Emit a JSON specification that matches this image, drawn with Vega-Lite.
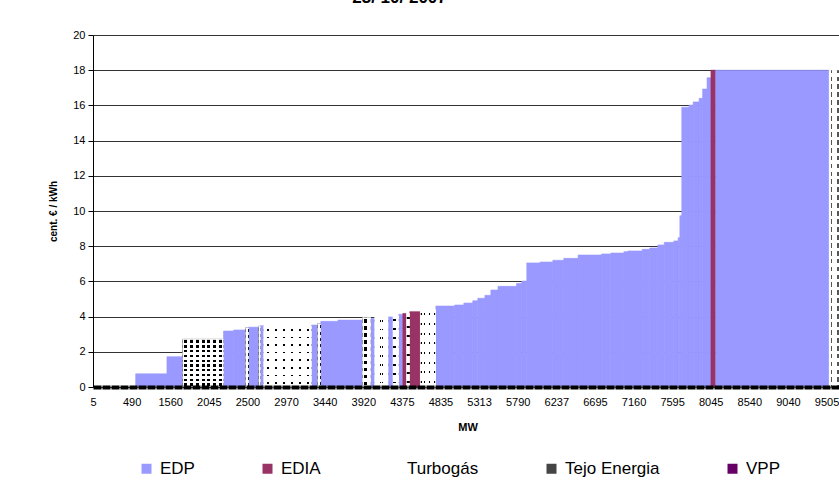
{
  "$schema": "https://vega.github.io/schema/vega-lite/v6.json",
  "width": 749,
  "height": 352,
  "autosize": "none",
  "padding": {"left": 93, "top": 35, "right": 0, "bottom": 110},
  "background": "white",
  "title": {"text": "23/ 10/ 2007", "fontSize": 17, "fontWeight": "bold", "font": "Liberation Sans", "color": "black", "anchor": "middle", "frame": "group", "dx": -68, "offset": 9, "baseline": "alphabetic"},
  "config": {
    "view": {"stroke": null},
    "font": "Liberation Sans",
    "axis": {"labelFont": "Liberation Sans", "titleFont": "Liberation Sans", "labelColor": "black", "titleColor": "black"}
  },
  "data": {"values": [
    {"series": "EDP", "start": 22.1, "end": 38.3, "price": 0.75},
    {"series": "EDP", "start": 38.3, "end": 46.5, "price": 1.72},
    {"series": "Tejo Energia", "start": 46.5, "end": 67.6, "price": 2.71},
    {"series": "EDP", "start": 67.6, "end": 72.9, "price": 3.18},
    {"series": "EDP", "start": 72.9, "end": 79.1, "price": 3.24},
    {"series": "Tejo Energia", "start": 79.1, "end": 80.7, "price": 3.37},
    {"series": "EDP", "start": 80.7, "end": 85.9, "price": 3.40},
    {"series": "Tejo Energia", "start": 85.9, "end": 86.7, "price": 3.45},
    {"series": "EDP", "start": 86.7, "end": 88.5, "price": 3.48},
    {"series": "Turbogás", "start": 88.5, "end": 113.2, "price": 3.47},
    {"series": "EDP", "start": 113.2, "end": 116.4, "price": 3.52},
    {"series": "Tejo Energia", "start": 116.4, "end": 118.0, "price": 3.60},
    {"series": "EDP", "start": 118.0, "end": 126.9, "price": 3.73},
    {"series": "EDP", "start": 126.9, "end": 139.6, "price": 3.80},
    {"series": "Tejo Energia", "start": 139.6, "end": 143.9, "price": 3.95},
    {"series": "EDP", "start": 143.9, "end": 146.0, "price": 3.90},
    {"series": "Turbogás", "start": 146.0, "end": 152.9, "price": 4.02},
    {"series": "EDP", "start": 152.9, "end": 155.4, "price": 3.98},
    {"series": "Turbogás", "start": 155.4, "end": 158.4, "price": 4.05},
    {"series": "EDP", "start": 158.4, "end": 160.5, "price": 4.13},
    {"series": "EDIA", "start": 160.5, "end": 162.5, "price": 4.18},
    {"series": "Turbogás", "start": 162.5, "end": 164.1, "price": 4.20},
    {"series": "EDIA", "start": 164.1, "end": 169.6, "price": 4.28},
    {"series": "Turbogás", "start": 169.6, "end": 177.6, "price": 4.41},
    {"series": "EDP", "start": 177.6, "end": 187.4, "price": 4.60},
    {"series": "EDP", "start": 187.4, "end": 192.1, "price": 4.66},
    {"series": "EDP", "start": 192.1, "end": 196.7, "price": 4.77},
    {"series": "EDP", "start": 196.7, "end": 199.3, "price": 4.90},
    {"series": "EDP", "start": 199.3, "end": 203.0, "price": 5.04},
    {"series": "EDP", "start": 203.0, "end": 206.1, "price": 5.21},
    {"series": "EDP", "start": 206.1, "end": 209.8, "price": 5.51},
    {"series": "EDP", "start": 209.8, "end": 219.4, "price": 5.72},
    {"series": "EDP", "start": 219.4, "end": 222.1, "price": 5.89},
    {"series": "EDP", "start": 222.1, "end": 224.7, "price": 6.02},
    {"series": "EDP", "start": 224.7, "end": 231.6, "price": 7.05},
    {"series": "EDP", "start": 231.6, "end": 238.2, "price": 7.10},
    {"series": "EDP", "start": 238.2, "end": 243.9, "price": 7.20},
    {"series": "EDP", "start": 243.9, "end": 251.3, "price": 7.31},
    {"series": "EDP", "start": 251.3, "end": 263.4, "price": 7.50},
    {"series": "EDP", "start": 263.4, "end": 268.2, "price": 7.56},
    {"series": "EDP", "start": 268.2, "end": 275.0, "price": 7.61},
    {"series": "EDP", "start": 275.0, "end": 277.1, "price": 7.69},
    {"series": "EDP", "start": 277.1, "end": 284.5, "price": 7.73},
    {"series": "EDP", "start": 284.5, "end": 288.4, "price": 7.82},
    {"series": "EDP", "start": 288.4, "end": 292.6, "price": 7.90},
    {"series": "EDP", "start": 292.6, "end": 295.9, "price": 8.07},
    {"series": "EDP", "start": 295.9, "end": 300.9, "price": 8.22},
    {"series": "EDP", "start": 300.9, "end": 303.1, "price": 8.30},
    {"series": "EDP", "start": 303.1, "end": 304.0, "price": 8.48},
    {"series": "EDP", "start": 304.0, "end": 305.0, "price": 9.73},
    {"series": "EDP", "start": 305.0, "end": 308.8, "price": 15.90},
    {"series": "EDP", "start": 308.8, "end": 310.9, "price": 16.02},
    {"series": "EDP", "start": 310.9, "end": 314.0, "price": 16.20},
    {"series": "EDP", "start": 314.0, "end": 315.8, "price": 16.40},
    {"series": "EDP", "start": 315.8, "end": 318.1, "price": 16.93},
    {"series": "EDP", "start": 318.1, "end": 320.1, "price": 17.57},
    {"series": "EDIA", "start": 320.1, "end": 322.6, "price": 18.0},
    {"series": "EDP", "start": 322.6, "end": 381.4, "price": 18.0},
    {"series": "Turbogás", "start": 381.4, "end": 388.0, "price": 18.0}
  ]},
  "encoding": {
    "x": {"field": "start", "type": "quantitative", "scale": {"domain": [0, 388], "nice": false, "zero": false},
      "axis": {"title": "MW", "values": [0, 20, 40, 60, 80, 100, 120, 140, 160, 180, 200, 220, 240, 260, 280, 300, 320, 340, 360, 380],
        "labelExpr": "['5','490','1560','2045','2500','2970','3440','3920','4375','4835','5313','5790','6237','6695','7160','7595','8045','8540','9040','9505'][round(datum.value/20)]",
        "grid": false, "ticks": false, "domainColor": "black", "domainWidth": 4, "domainDash": [8, 1], "zindex": 1,
        "labelFontSize": 11, "labelPadding": 9, "labelFlush": false, "labelOverlap": false,
        "titleFontSize": 11, "titleFontWeight": "bold", "titlePadding": 14}},
    "x2": {"field": "end"},
    "y": {"field": "price", "type": "quantitative", "scale": {"domain": [0, 20], "nice": false},
      "axis": {"title": "cent. € / kWh", "values": [0, 2, 4, 6, 8, 10, 12, 14, 16, 18, 20], "tickCount": 11, "labelOverlap": false, "grid": true, "gridColor": "#333333", "gridWidth": 1.2,
        "tickColor": "black", "tickSize": 5, "domainColor": "black", "labelFontSize": 11, "labelPadding": 3,
        "titleFontSize": 10, "titleFontWeight": "bold", "titlePadding": 14}},
    "y2": {"datum": 0}
  },
  "layer": [
    {
      "mark": {"type": "rect", "strokeWidth": 0.6},
      "encoding": {
        "color": {"field": "series", "type": "nominal",
          "scale": {"domain": ["EDP", "EDIA", "Turbogás", "Tejo Energia", "VPP"], "range": ["#9999ff", "#993366", "#ffffff", "#444444", "#660066"]},
          "legend": {"orient": "none", "legendX": 45, "legendY": 425, "direction": "horizontal", "columns": 5, "title": null,
            "symbolType": "square", "symbolSize": 100, "symbolStrokeWidth": 0, "labelFontSize": 17, "labelFont": "Liberation Sans", "labelColor": "black",
            "columnPadding": 64, "labelOffset": 5}},
        "stroke": {"field": "series", "type": "nominal", "legend": null,
          "scale": {"domain": ["EDP", "EDIA", "Turbogás", "Tejo Energia", "VPP"], "range": ["#9999ff", "#993366", "#ffffff", "#444444", "#660066"]}}
      }
    },
    {
      "transform": [{"filter": "datum.series === 'Tejo Energia'"}],
      "mark": {"type": "rect", "fill": {"gradient": "linear", "x1": 0, "y1": 0, "x2": 0, "y2": 1, "stops": [
        {"offset": 0, "color": "white"},
        {"offset": 0.025, "color": "white"}, {"offset": 0.025, "color": "black"}, {"offset": 0.075, "color": "black"}, {"offset": 0.075, "color": "white"},
        {"offset": 0.125, "color": "white"}, {"offset": 0.125, "color": "black"}, {"offset": 0.175, "color": "black"}, {"offset": 0.175, "color": "white"},
        {"offset": 0.225, "color": "white"}, {"offset": 0.225, "color": "black"}, {"offset": 0.275, "color": "black"}, {"offset": 0.275, "color": "white"},
        {"offset": 0.325, "color": "white"}, {"offset": 0.325, "color": "black"}, {"offset": 0.375, "color": "black"}, {"offset": 0.375, "color": "white"},
        {"offset": 0.425, "color": "white"}, {"offset": 0.425, "color": "black"}, {"offset": 0.475, "color": "black"}, {"offset": 0.475, "color": "white"},
        {"offset": 0.525, "color": "white"}, {"offset": 0.525, "color": "black"}, {"offset": 0.575, "color": "black"}, {"offset": 0.575, "color": "white"},
        {"offset": 0.625, "color": "white"}, {"offset": 0.625, "color": "black"}, {"offset": 0.675, "color": "black"}, {"offset": 0.675, "color": "white"},
        {"offset": 0.725, "color": "white"}, {"offset": 0.725, "color": "black"}, {"offset": 0.775, "color": "black"}, {"offset": 0.775, "color": "white"},
        {"offset": 0.825, "color": "white"}, {"offset": 0.825, "color": "black"}, {"offset": 0.875, "color": "black"}, {"offset": 0.875, "color": "white"},
        {"offset": 0.925, "color": "white"}, {"offset": 0.925, "color": "black"}, {"offset": 0.975, "color": "black"}, {"offset": 0.975, "color": "white"},
        {"offset": 1, "color": "white"}]}}
    },
    {
      "transform": [{"filter": "datum.series === 'Tejo Energia'"}],
      "mark": {"type": "rect", "fill": {"gradient": "linear", "x1": 0, "y1": 0, "x2": 1, "y2": 0, "stops": [
        {"offset": 0, "color": "white"},
        {"offset": 0.0357, "color": "white"}, {"offset": 0.0357, "color": "rgba(255,255,255,0)"}, {"offset": 0.1071, "color": "rgba(255,255,255,0)"}, {"offset": 0.1071, "color": "white"},
        {"offset": 0.1786, "color": "white"}, {"offset": 0.1786, "color": "rgba(255,255,255,0)"}, {"offset": 0.25, "color": "rgba(255,255,255,0)"}, {"offset": 0.25, "color": "white"},
        {"offset": 0.3214, "color": "white"}, {"offset": 0.3214, "color": "rgba(255,255,255,0)"}, {"offset": 0.3929, "color": "rgba(255,255,255,0)"}, {"offset": 0.3929, "color": "white"},
        {"offset": 0.4643, "color": "white"}, {"offset": 0.4643, "color": "rgba(255,255,255,0)"}, {"offset": 0.5357, "color": "rgba(255,255,255,0)"}, {"offset": 0.5357, "color": "white"},
        {"offset": 0.6071, "color": "white"}, {"offset": 0.6071, "color": "rgba(255,255,255,0)"}, {"offset": 0.6786, "color": "rgba(255,255,255,0)"}, {"offset": 0.6786, "color": "white"},
        {"offset": 0.75, "color": "white"}, {"offset": 0.75, "color": "rgba(255,255,255,0)"}, {"offset": 0.8214, "color": "rgba(255,255,255,0)"}, {"offset": 0.8214, "color": "white"},
        {"offset": 0.8929, "color": "white"}, {"offset": 0.8929, "color": "rgba(255,255,255,0)"}, {"offset": 0.9643, "color": "rgba(255,255,255,0)"}, {"offset": 0.9643, "color": "white"},
        {"offset": 1, "color": "white"}]}}
    },
    {
      "transform": [{"filter": "datum.series === 'Turbogás' && datum.price < 10"}],
      "mark": {"type": "rect", "fill": {"gradient": "linear", "x1": 0, "y1": 0, "x2": 0, "y2": 1, "stops": [
        {"offset": 0, "color": "white"},
        {"offset": 0.0495, "color": "white"}, {"offset": 0.0495, "color": "black"}, {"offset": 0.0755, "color": "black"}, {"offset": 0.0755, "color": "white"},
        {"offset": 0.1745, "color": "white"}, {"offset": 0.1745, "color": "black"}, {"offset": 0.2005, "color": "black"}, {"offset": 0.2005, "color": "white"},
        {"offset": 0.2995, "color": "white"}, {"offset": 0.2995, "color": "black"}, {"offset": 0.3255, "color": "black"}, {"offset": 0.3255, "color": "white"},
        {"offset": 0.4245, "color": "white"}, {"offset": 0.4245, "color": "black"}, {"offset": 0.4505, "color": "black"}, {"offset": 0.4505, "color": "white"},
        {"offset": 0.5495, "color": "white"}, {"offset": 0.5495, "color": "black"}, {"offset": 0.5755, "color": "black"}, {"offset": 0.5755, "color": "white"},
        {"offset": 0.6745, "color": "white"}, {"offset": 0.6745, "color": "black"}, {"offset": 0.7005, "color": "black"}, {"offset": 0.7005, "color": "white"},
        {"offset": 0.7995, "color": "white"}, {"offset": 0.7995, "color": "black"}, {"offset": 0.8255, "color": "black"}, {"offset": 0.8255, "color": "white"},
        {"offset": 0.9245, "color": "white"}, {"offset": 0.9245, "color": "black"}, {"offset": 0.9505, "color": "black"}, {"offset": 0.9505, "color": "white"},
        {"offset": 1, "color": "white"}]}}
    },
    {
      "transform": [{"filter": "datum.series === 'Turbogás' && datum.price < 10"}],
      "mark": {"type": "rect", "fill": {"gradient": "linear", "x1": 0, "y1": 0, "x2": 1, "y2": 0, "stops": [
        {"offset": 0, "color": "white"},
        {"offset": 0.0633, "color": "white"}, {"offset": 0.0633, "color": "rgba(255,255,255,0)"}, {"offset": 0.1033, "color": "rgba(255,255,255,0)"}, {"offset": 0.1033, "color": "white"},
        {"offset": 0.23, "color": "white"}, {"offset": 0.23, "color": "rgba(255,255,255,0)"}, {"offset": 0.27, "color": "rgba(255,255,255,0)"}, {"offset": 0.27, "color": "white"},
        {"offset": 0.3967, "color": "white"}, {"offset": 0.3967, "color": "rgba(255,255,255,0)"}, {"offset": 0.4367, "color": "rgba(255,255,255,0)"}, {"offset": 0.4367, "color": "white"},
        {"offset": 0.5633, "color": "white"}, {"offset": 0.5633, "color": "rgba(255,255,255,0)"}, {"offset": 0.6033, "color": "rgba(255,255,255,0)"}, {"offset": 0.6033, "color": "white"},
        {"offset": 0.73, "color": "white"}, {"offset": 0.73, "color": "rgba(255,255,255,0)"}, {"offset": 0.77, "color": "rgba(255,255,255,0)"}, {"offset": 0.77, "color": "white"},
        {"offset": 0.8967, "color": "white"}, {"offset": 0.8967, "color": "rgba(255,255,255,0)"}, {"offset": 0.9367, "color": "rgba(255,255,255,0)"}, {"offset": 0.9367, "color": "white"},
        {"offset": 1, "color": "white"}]}}
    },
    {
      "transform": [{"filter": "datum.series === 'Turbogás' && datum.price >= 10"}],
      "mark": {"type": "rect", "fill": {"gradient": "linear", "x1": 0, "y1": 0, "x2": 1, "y2": 0, "stops": [
        {"offset": 0, "color": "white"},
        {"offset": 0.12, "color": "white"}, {"offset": 0.12, "color": "#555555"}, {"offset": 0.24, "color": "#555555"}, {"offset": 0.24, "color": "white"},
        {"offset": 0.62, "color": "white"}, {"offset": 0.62, "color": "#555555"}, {"offset": 0.74, "color": "#555555"}, {"offset": 0.74, "color": "white"},
        {"offset": 1, "color": "white"}]}}
    },
    {
      "transform": [{"filter": "datum.series === 'Turbogás' && datum.price >= 10"}],
      "mark": {"type": "rect", "fill": {"gradient": "linear", "x1": 0, "y1": 0, "x2": 0, "y2": 1, "stops": [
        {"offset": 0, "color": "rgba(255,255,255,0)"},
        {"offset": 0.01, "color": "rgba(255,255,255,0)"}, {"offset": 0.01, "color": "white"}, {"offset": 0.02, "color": "white"}, {"offset": 0.02, "color": "rgba(255,255,255,0)"},
        {"offset": 0.035, "color": "rgba(255,255,255,0)"}, {"offset": 0.035, "color": "white"}, {"offset": 0.045, "color": "white"}, {"offset": 0.045, "color": "rgba(255,255,255,0)"},
        {"offset": 0.06, "color": "rgba(255,255,255,0)"}, {"offset": 0.06, "color": "white"}, {"offset": 0.07, "color": "white"}, {"offset": 0.07, "color": "rgba(255,255,255,0)"},
        {"offset": 0.085, "color": "rgba(255,255,255,0)"}, {"offset": 0.085, "color": "white"}, {"offset": 0.095, "color": "white"}, {"offset": 0.095, "color": "rgba(255,255,255,0)"},
        {"offset": 0.11, "color": "rgba(255,255,255,0)"}, {"offset": 0.11, "color": "white"}, {"offset": 0.12, "color": "white"}, {"offset": 0.12, "color": "rgba(255,255,255,0)"},
        {"offset": 0.135, "color": "rgba(255,255,255,0)"}, {"offset": 0.135, "color": "white"}, {"offset": 0.145, "color": "white"}, {"offset": 0.145, "color": "rgba(255,255,255,0)"},
        {"offset": 0.16, "color": "rgba(255,255,255,0)"}, {"offset": 0.16, "color": "white"}, {"offset": 0.17, "color": "white"}, {"offset": 0.17, "color": "rgba(255,255,255,0)"},
        {"offset": 0.185, "color": "rgba(255,255,255,0)"}, {"offset": 0.185, "color": "white"}, {"offset": 0.195, "color": "white"}, {"offset": 0.195, "color": "rgba(255,255,255,0)"},
        {"offset": 0.21, "color": "rgba(255,255,255,0)"}, {"offset": 0.21, "color": "white"}, {"offset": 0.22, "color": "white"}, {"offset": 0.22, "color": "rgba(255,255,255,0)"},
        {"offset": 0.235, "color": "rgba(255,255,255,0)"}, {"offset": 0.235, "color": "white"}, {"offset": 0.245, "color": "white"}, {"offset": 0.245, "color": "rgba(255,255,255,0)"},
        {"offset": 0.26, "color": "rgba(255,255,255,0)"}, {"offset": 0.26, "color": "white"}, {"offset": 0.27, "color": "white"}, {"offset": 0.27, "color": "rgba(255,255,255,0)"},
        {"offset": 0.285, "color": "rgba(255,255,255,0)"}, {"offset": 0.285, "color": "white"}, {"offset": 0.295, "color": "white"}, {"offset": 0.295, "color": "rgba(255,255,255,0)"},
        {"offset": 0.31, "color": "rgba(255,255,255,0)"}, {"offset": 0.31, "color": "white"}, {"offset": 0.32, "color": "white"}, {"offset": 0.32, "color": "rgba(255,255,255,0)"},
        {"offset": 0.335, "color": "rgba(255,255,255,0)"}, {"offset": 0.335, "color": "white"}, {"offset": 0.345, "color": "white"}, {"offset": 0.345, "color": "rgba(255,255,255,0)"},
        {"offset": 0.36, "color": "rgba(255,255,255,0)"}, {"offset": 0.36, "color": "white"}, {"offset": 0.37, "color": "white"}, {"offset": 0.37, "color": "rgba(255,255,255,0)"},
        {"offset": 0.385, "color": "rgba(255,255,255,0)"}, {"offset": 0.385, "color": "white"}, {"offset": 0.395, "color": "white"}, {"offset": 0.395, "color": "rgba(255,255,255,0)"},
        {"offset": 0.41, "color": "rgba(255,255,255,0)"}, {"offset": 0.41, "color": "white"}, {"offset": 0.42, "color": "white"}, {"offset": 0.42, "color": "rgba(255,255,255,0)"},
        {"offset": 0.435, "color": "rgba(255,255,255,0)"}, {"offset": 0.435, "color": "white"}, {"offset": 0.445, "color": "white"}, {"offset": 0.445, "color": "rgba(255,255,255,0)"},
        {"offset": 0.46, "color": "rgba(255,255,255,0)"}, {"offset": 0.46, "color": "white"}, {"offset": 0.47, "color": "white"}, {"offset": 0.47, "color": "rgba(255,255,255,0)"},
        {"offset": 0.485, "color": "rgba(255,255,255,0)"}, {"offset": 0.485, "color": "white"}, {"offset": 0.495, "color": "white"}, {"offset": 0.495, "color": "rgba(255,255,255,0)"},
        {"offset": 0.51, "color": "rgba(255,255,255,0)"}, {"offset": 0.51, "color": "white"}, {"offset": 0.52, "color": "white"}, {"offset": 0.52, "color": "rgba(255,255,255,0)"},
        {"offset": 0.535, "color": "rgba(255,255,255,0)"}, {"offset": 0.535, "color": "white"}, {"offset": 0.545, "color": "white"}, {"offset": 0.545, "color": "rgba(255,255,255,0)"},
        {"offset": 0.56, "color": "rgba(255,255,255,0)"}, {"offset": 0.56, "color": "white"}, {"offset": 0.57, "color": "white"}, {"offset": 0.57, "color": "rgba(255,255,255,0)"},
        {"offset": 0.585, "color": "rgba(255,255,255,0)"}, {"offset": 0.585, "color": "white"}, {"offset": 0.595, "color": "white"}, {"offset": 0.595, "color": "rgba(255,255,255,0)"},
        {"offset": 0.61, "color": "rgba(255,255,255,0)"}, {"offset": 0.61, "color": "white"}, {"offset": 0.62, "color": "white"}, {"offset": 0.62, "color": "rgba(255,255,255,0)"},
        {"offset": 0.635, "color": "rgba(255,255,255,0)"}, {"offset": 0.635, "color": "white"}, {"offset": 0.645, "color": "white"}, {"offset": 0.645, "color": "rgba(255,255,255,0)"},
        {"offset": 0.66, "color": "rgba(255,255,255,0)"}, {"offset": 0.66, "color": "white"}, {"offset": 0.67, "color": "white"}, {"offset": 0.67, "color": "rgba(255,255,255,0)"},
        {"offset": 0.685, "color": "rgba(255,255,255,0)"}, {"offset": 0.685, "color": "white"}, {"offset": 0.695, "color": "white"}, {"offset": 0.695, "color": "rgba(255,255,255,0)"},
        {"offset": 0.71, "color": "rgba(255,255,255,0)"}, {"offset": 0.71, "color": "white"}, {"offset": 0.72, "color": "white"}, {"offset": 0.72, "color": "rgba(255,255,255,0)"},
        {"offset": 0.735, "color": "rgba(255,255,255,0)"}, {"offset": 0.735, "color": "white"}, {"offset": 0.745, "color": "white"}, {"offset": 0.745, "color": "rgba(255,255,255,0)"},
        {"offset": 0.76, "color": "rgba(255,255,255,0)"}, {"offset": 0.76, "color": "white"}, {"offset": 0.77, "color": "white"}, {"offset": 0.77, "color": "rgba(255,255,255,0)"},
        {"offset": 0.785, "color": "rgba(255,255,255,0)"}, {"offset": 0.785, "color": "white"}, {"offset": 0.795, "color": "white"}, {"offset": 0.795, "color": "rgba(255,255,255,0)"},
        {"offset": 0.81, "color": "rgba(255,255,255,0)"}, {"offset": 0.81, "color": "white"}, {"offset": 0.82, "color": "white"}, {"offset": 0.82, "color": "rgba(255,255,255,0)"},
        {"offset": 0.835, "color": "rgba(255,255,255,0)"}, {"offset": 0.835, "color": "white"}, {"offset": 0.845, "color": "white"}, {"offset": 0.845, "color": "rgba(255,255,255,0)"},
        {"offset": 0.86, "color": "rgba(255,255,255,0)"}, {"offset": 0.86, "color": "white"}, {"offset": 0.87, "color": "white"}, {"offset": 0.87, "color": "rgba(255,255,255,0)"},
        {"offset": 0.885, "color": "rgba(255,255,255,0)"}, {"offset": 0.885, "color": "white"}, {"offset": 0.895, "color": "white"}, {"offset": 0.895, "color": "rgba(255,255,255,0)"},
        {"offset": 0.91, "color": "rgba(255,255,255,0)"}, {"offset": 0.91, "color": "white"}, {"offset": 0.92, "color": "white"}, {"offset": 0.92, "color": "rgba(255,255,255,0)"},
        {"offset": 0.935, "color": "rgba(255,255,255,0)"}, {"offset": 0.935, "color": "white"}, {"offset": 0.945, "color": "white"}, {"offset": 0.945, "color": "rgba(255,255,255,0)"},
        {"offset": 0.96, "color": "rgba(255,255,255,0)"}, {"offset": 0.96, "color": "white"}, {"offset": 0.97, "color": "white"}, {"offset": 0.97, "color": "rgba(255,255,255,0)"},
        {"offset": 0.985, "color": "rgba(255,255,255,0)"}, {"offset": 0.985, "color": "white"}, {"offset": 0.995, "color": "white"}, {"offset": 0.995, "color": "rgba(255,255,255,0)"},
        {"offset": 1, "color": "rgba(255,255,255,0)"}]}}
    }
  ]
}
